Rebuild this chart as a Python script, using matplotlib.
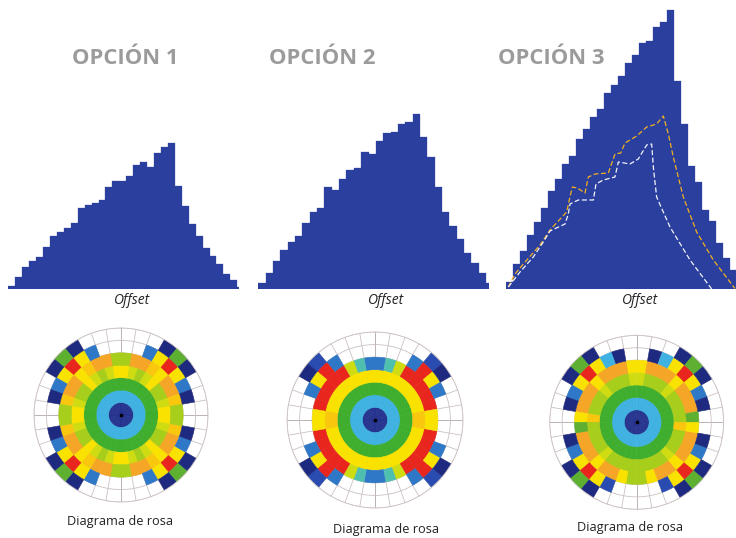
import numpy as np
import matplotlib
matplotlib.use("Agg")
import matplotlib.pyplot as plt

W, H = 736, 538
plt.rcParams['font.family'] = ['Open Sans', 'DejaVu Sans']

titles = ["OPCIÓN 1", "OPCIÓN 2", "OPCIÓN 3"]
xlabel = "Offset"
rose_label = "Diagrama de rosa"

heights1 = [3,12,22,28,32,42,53,57,61,66,81,84,86,89,102,108,108,113,124,127,122,136,142,146,103,83,65,53,41,33,25,15,9,2]
heights2 = [6,16,28,39,47,53,66,77,81,102,99,110,119,121,137,135,148,156,157,165,167,175,152,132,102,77,63,50,36,26,16,6]
heights3 = [7,25,38,54,67,81,98,110,125,133,150,160,172,180,196,204,213,226,234,246,248,262,267,279,208,165,123,107,79,68,46,31,19]

orange_x = [.33,1.29,2.48,4.86,6.29,8.67,9.14,9.48,10.19,11.29,11.76,12.71,14.62,15.57,16.38,17.0,18.67,20.1,21.52,22.48,23.19,23.9,25.33,27.24,29.62,32.71]
orange_y = [2,15,25,44,59,77,92,102,101,96,112,115,116,135,136,146,153,162,165,173,155,132,92,57,29,0.5]
white_x = [.33,2.0,3.9,5.33,6.29,8.43,8.9,9.14,10.33,12.48,12.86,13.9,15.57,16.05,17.71,18.9,20.1,20.81,21.05,21.52,23.43,26.29,29.38]
white_y = [2,17,32,47,58,65,75,85,89,89,105,109,112,127,125,130,144,145,122,92,62,29,0]

palette = {'N': '#1E2A80', 'D': '#25338F', 'B': '#2F78C8', 'C': '#2A4CB0', 'L': '#3FB2E2',
           'T': '#4FBFB0', 'G': '#3FAE2E', 'V': '#A6CE1A', 'S': '#CFDC12', 'E': '#5DB030',
           'Y': '#F9E200', 'O': '#F6A626', 'A': '#F9C80E', 'R': '#E8261E', 'W': None}

# each string: one ring, sectors from the vertical to the horizontal (9 sectors of 10 degrees)
rose1 = ["DDDDDDDDD", "LLLLLLLLL", "GGGGGGGGG", "YSVSYVVSY", "VOOAYOOAV", "WWBYRYBNW", "WWWNENWWW"]
rose2 = ["DDDDDDDDD", "LLLLLLLLL", "GGGGGGGGG", "YYYYYYYYA", "BTSRRRRRY", "WWWBRYBWW", "WWWWCNWWW"]
rose3_ur = ["DDDDDDDDD", "LLLLLLLLL", "GGGGGGGGG", "SVVVSVVVV", "YOOOYOOOE", "WNLYRYBNW", "WWWNENWWW"]
rose3_ul = ["DDDDDDDDD", "LLLLLLLLL", "GGGGGGGGG", "SVVVSVVVA", "YOOOYOOOY", "WNLYRYBNW", "WWWNENWWW"]
rose3_lr = ["DDDDDDDDD", "LLLLLLLLL", "GGGGGGGGG", "VVVVSVVVA", "VYOOYOOOY", "WWCYRYBNW", "WWWNENWWW"]
rose3_ll = ["DDDDDDDDD", "LLLLLLLLL", "GGGGGGGGG", "VVVVSVVVV", "VYOOYOOOE", "WWCYRYBNW", "WWWNENWWW"]

bar_color = '#2A3F9E'
title_color = '#9B9B9B'
grid_color = '#CBC1C1'
axis_color = '#AFA5A5'


def axes_px(left, top, right, bottom, **kw):
    return fig.add_axes([left / W, 1 - bottom / H, (right - left) / W, (bottom - top) / H], **kw)


fig = plt.figure(figsize=(W / 100, H / 100), dpi=100)

hist_specs = [(heights1, 8.3, 238.7, 288.5, 33.2),
              (heights2, 258.3, 489, 289, 31.4),
              (heights3, 506, 736, 289, 32.86)]
for vals, l, r, base, nb in hist_specs:
    ax = axes_px(l, base - 285, r, base)
    ax.bar(np.arange(len(vals)), vals, width=1.0, align='edge', color=bar_color, edgecolor=bar_color, linewidth=0.2)
    ax.set_xlim(0, nb)
    ax.set_ylim(0, 285)
    ax.axis('off')
    if vals is heights3:
        ax.plot(orange_x, orange_y, color='#F0B020', lw=0.9, ls=(0, (4, 2)))
        ax.plot(white_x, white_y, color='#F2F4FA', lw=0.9, ls=(0, (4, 2)))

for t, x in zip(titles, [125, 322.5, 551.5]):
    fig.text(x / W, 1 - 58 / H, t, color=title_color, fontsize=15.8, fontweight='bold', ha='center', va='center')
for x in [132, 386, 640]:
    fig.text(x / W, 1 - 301 / H, xlabel, fontsize=10, style='italic', color='#222222', ha='center', va='center')
for x, y in [(120, 521), (386, 530), (630, 527)]:
    fig.text(x / W, 1 - y / H, rose_label, fontsize=9.2, color='#222222', ha='center', va='center')

rose_specs = [(121, 415, 87, rose1, rose1, rose1, rose1),
              (375, 420, 88, rose2, rose2, rose2, rose2),
              (636.7, 422.3, 87, rose3_ur, rose3_ul, rose3_lr, rose3_ll)]
step = np.deg2rad(10)
for cx, cy, R, ur, ul, lr, ll in rose_specs:
    ax = axes_px(cx - R, cy - R, cx + R, cy + R, projection='polar')
    ax.set_theta_zero_location('N')
    ax.set_theta_direction(-1)
    ax.patch.set_alpha(0)
    for ring in range(7):
        for k in range(9):
            a = k * step
            cells = [(a, ur[ring][k]), (-a - step, ul[ring][k]),
                     (np.pi - a - step, lr[ring][k]), (np.pi + a, ll[ring][k])]
            for th, code in cells:
                col = palette[code]
                if col is not None:
                    ax.bar(th, 1, width=step, bottom=ring, align='edge', color=col,
                           edgecolor=col, linewidth=0.35, zorder=2)
    ax.plot([0], [0], 'o', color='black', ms=1.6, zorder=4)
    ax.set_ylim(0, 7)
    ax.set_yticks(np.arange(1, 8))
    ax.set_xticks(np.arange(36) * step)
    ax.set_xticklabels([])
    ax.set_yticklabels([])
    ax.grid(True, color=grid_color, lw=0.6)
    for k in (0, 9, 18, 27):
        ax.get_xgridlines()[k].set_color(axis_color)
    ax.tick_params(axis='x', length=2.5, color=grid_color, width=0.6, direction='out')
    ax.tick_params(axis='y', length=0)
    ax.set_axisbelow(True)
    ax.spines['polar'].set_color(grid_color)
    ax.spines['polar'].set_linewidth(0.6)

fig.savefig('out.png', dpi=100)
